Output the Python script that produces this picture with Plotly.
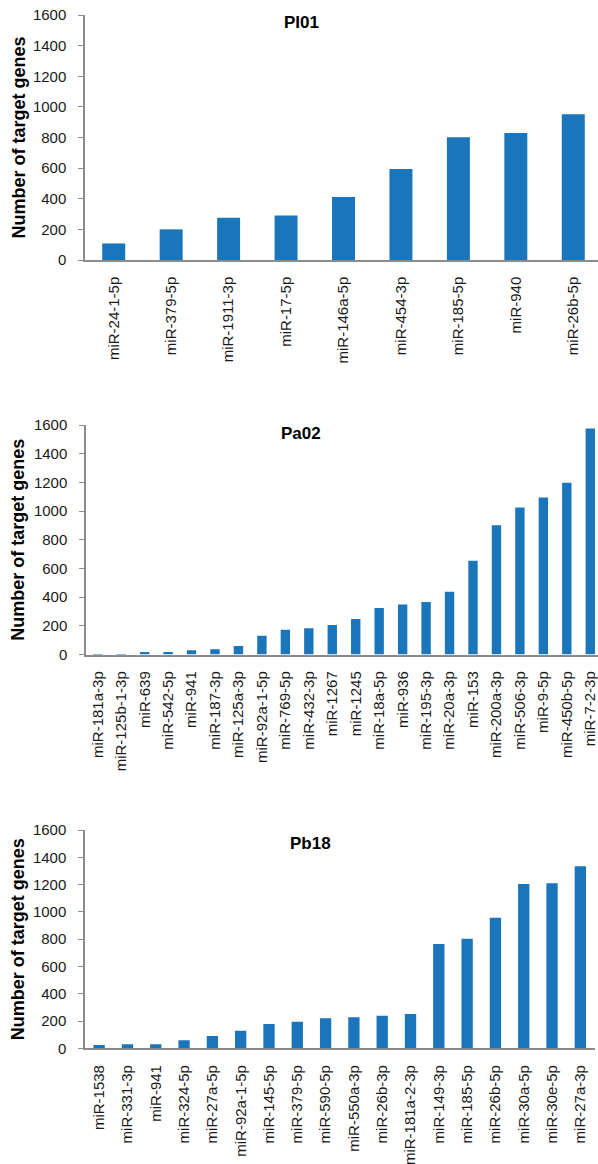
import plotly.graph_objects as go

W, H = 598, 1164

# ---------------- data ----------------
pi01_labels = ["miR-24-1-5p", "miR-379-5p", "miR-1911-3p", "miR-17-5p", "miR-146a-5p",
               "miR-454-3p", "miR-185-5p", "miR-940", "miR-26b-5p"]
pi01_values = [108, 200, 276, 291, 412, 595, 802, 830, 952]

pa02_labels = ["miR-181a-3p", "miR-125b-1-3p", "miR-639", "miR-542-5p", "miR-941",
               "miR-187-3p", "miR-125a-3p", "miR-92a-1-5p", "miR-769-5p", "miR-432-3p",
               "miR-1267", "miR-1245", "miR-18a-5p", "miR-936", "miR-195-3p",
               "miR-20a-3p", "miR-153", "miR-200a-3p", "miR-506-3p", "miR-9-5p",
               "miR-450b-5p", "miR-7-2-3p"]
pa02_values = [2, 3, 18, 18, 30, 37, 60, 130, 172, 183, 206, 248, 325, 348, 366,
               438, 653, 901, 1024, 1095, 1198, 1576]

pb18_labels = ["miR-1538", "miR-331-3p", "miR-941", "miR-324-5p", "miR-27a-5p",
               "miR-92a-1-5p", "miR-145-5p", "miR-379-5p", "miR-590-5p", "miR-550a-3p",
               "miR-26b-3p", "miR-181a-2-3p", "miR-149-3p", "miR-185-5p", "miR-26b-5p",
               "miR-30a-5p", "miR-30e-5p", "miR-27a-3p"]
pb18_values = [24, 29, 29, 59, 90, 129, 178, 195, 220, 227, 239, 252, 765, 803,
               957, 1204, 1210, 1335]

panel_titles = ["PI01", "Pa02", "Pb18"]
y_title = "Number of target genes"
y_ticks = [0, 200, 400, 600, 800, 1000, 1200, 1400, 1600]

# ---------------- layout helpers (pixel -> paper) ----------------
def px_x(x):
    return x / W

def px_y(y):
    return 1 - y / H

BAR_COLOR = "#1b75bb"
AXIS_COLOR = "#8c8c8c"
FONT = "Liberation Sans, Arial, sans-serif"

panels = [
    # labels, values, (left, right px), (top, bottom px), right-range trim, title pos
    (pi01_labels, pi01_values, (85, 598), (15, 260), 4 / 57.4, (301, 22.5)),
    (pa02_labels, pa02_values, (86, 598), (425, 654.5), 4 / 23.45, (301, 433.5)),
    (pb18_labels, pb18_values, (85, 594.5), (830, 1048.3), 0.0, (310, 843.5)),
]

fig = go.Figure()
annotations = []
for i, (labels, values, (xl, xr), (yt, yb), trim, (tx, ty)) in enumerate(panels):
    n = i + 1
    xa = "x" if n == 1 else f"x{n}"
    ya = "y" if n == 1 else f"y{n}"
    fig.add_trace(go.Bar(x=labels, y=values, marker=dict(color=BAR_COLOR, line=dict(width=0)),
                         xaxis=xa, yaxis=ya, showlegend=False))
    xkey = "xaxis" if n == 1 else f"xaxis{n}"
    ykey = "yaxis" if n == 1 else f"yaxis{n}"
    fig.update_layout(**{
        xkey: dict(domain=[px_x(xl), px_x(xr)], anchor=ya, type="category",
                   range=[-0.5, len(labels) - 0.5 - trim], automargin=False,
                   showline=True, linecolor=AXIS_COLOR, linewidth=1.5,
                   ticks="", tickangle=-90, ticklabelstandoff=9,
                   tickfont=dict(family=FONT, size=15, color="#1a1a1a"),
                   showgrid=False, zeroline=False, fixedrange=True),
        ykey: dict(domain=[px_y(yb), px_y(yt)], anchor=xa, range=[0, 1600],
                   automargin=False,
                   tickvals=y_ticks, ticks="outside", ticklen=5, tickwidth=1.2,
                   tickcolor=AXIS_COLOR, showline=True, linecolor=AXIS_COLOR,
                   linewidth=1.5, ticklabelstandoff=9,
                   tickfont=dict(family=FONT, size=15, color="#1a1a1a"),
                   showgrid=False, zeroline=False, fixedrange=True),
    })
    annotations.append(dict(text=f"<b>{panel_titles[i]}</b>", xref="paper", yref="paper",
                            x=px_x(tx), y=px_y(ty), xanchor="center", yanchor="middle",
                            showarrow=False, font=dict(family=FONT, size=17, color="#000")))
    annotations.append(dict(text=f"<b>{y_title}</b>", xref="paper", yref="paper",
                            x=px_x(18), y=px_y((yt + yb) / 2), xanchor="center",
                            yanchor="middle", textangle=-90, showarrow=False,
                            font=dict(family=FONT, size=18, color="#000")))

fig.update_layout(width=W, height=H, margin=dict(l=0, r=0, t=0, b=0, pad=0, autoexpand=False),
                  paper_bgcolor="white", plot_bgcolor="white", bargap=0.6,
                  annotations=annotations)

fig.write_html("out.html", config={"displayModeBar": False},
               post_script="document.body.style.margin='0';document.body.style.overflow='hidden';")
